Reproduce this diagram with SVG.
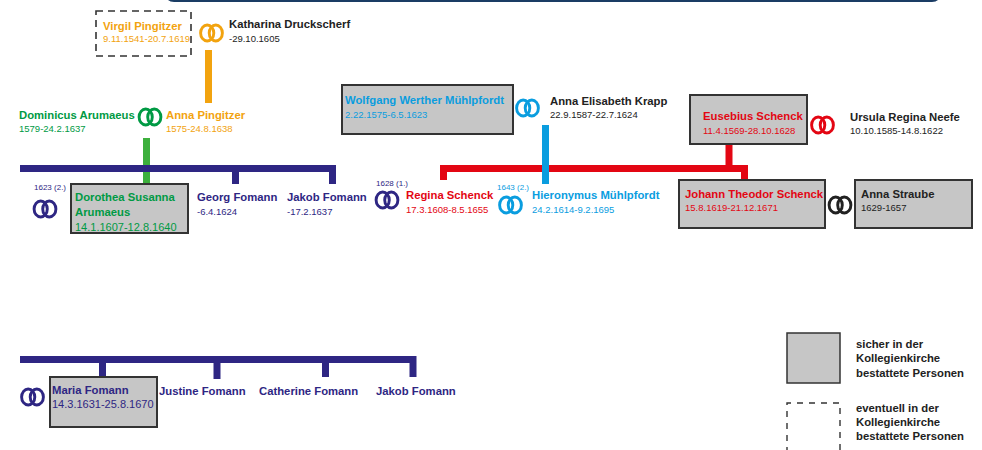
<svg xmlns="http://www.w3.org/2000/svg" xmlns:xlink="http://www.w3.org/1999/xlink" width="982" height="450" viewBox="0 0 982 450">
<style>
text{font-family:"Liberation Sans",Arial,sans-serif}
.n{font-weight:bold;font-size:11.3px}
.d{font-size:9.5px}
.d2{font-size:11px}
.s{font-size:8px}
.box{fill:#c6c6c6;stroke:#333;stroke-width:2}
.dash{fill:none;stroke:#333;stroke-width:1.6;stroke-dasharray:7 5}
.or{fill:#f2a30f}.gr{fill:#009a44}.nv{fill:#2e2683}.bl{fill:#0a9ddf}.rd{fill:#e30613}.bk{fill:#222}
.ring{fill:none;stroke-width:2.9}
.leg{font-weight:bold;font-size:11.3px;fill:#222}
</style>
<defs>
<g id="rings"><ellipse cx="-4.3" cy="0" rx="6.6" ry="8"/><ellipse cx="4.3" cy="0" rx="6.6" ry="8"/></g>
</defs>
<path d="M168 0 H938 Q936 2 932 2 H174 Q170 2 168 0 Z" fill="#1a3c64"/>
<g id="connectors">
<rect x="205" y="50" width="7" height="53" fill="#f2a30f"/>
<rect x="143" y="138" width="7" height="47" fill="#3db03d"/>
<path d="M20 168.5 H332.5 V184 M235.5 168.5 V184" fill="none" stroke="#2e2683" stroke-width="7"/>
<path d="M443.5 180 V168.5 H744.5 V180 M729 143 V168.5" fill="none" stroke="#e30613" stroke-width="7"/>
<rect x="542" y="125" width="7" height="59" fill="#0a9ddf"/>
<path d="M20 359.5 H413 V377 M102.5 359.5 V377 M217 359.5 V379 M325.5 359.5 V377" fill="none" stroke="#2e2683" stroke-width="7"/>
</g>
<g id="virgil">
<rect class="dash" x="96" y="11" width="95" height="45"/>
<text class="n or" x="103" y="30">Virgil Pingitzer</text>
<text class="d or" x="103" y="42">9.11.1541-20.7.1619</text>
</g>
<g id="rings-virgil"><use xlink:href="#rings" href="#rings" x="211.5" y="33" class="ring" stroke="#f2a30f"/></g>
<g id="katharina">
<text class="n bk" x="229" y="28">Katharina Druckscherf</text>
<text class="d bk" x="229" y="42">-29.10.1605</text>
</g>
<g id="dominicus">
<text class="n gr" x="19" y="119">Dominicus Arumaeus</text>
<text class="d gr" x="19" y="132">1579-24.2.1637</text>
</g>
<g id="rings-arumaeus"><use xlink:href="#rings" href="#rings" x="150" y="117" class="ring" stroke="#009a44"/></g>
<g id="anna-pingitzer">
<text class="n or" x="166" y="119">Anna Pingitzer</text>
<text class="d or" x="166" y="132">1575-24.8.1638</text>
</g>
<g id="rings-dorothea">
<text class="s nv" x="34" y="190">1623 (2.)</text>
<use xlink:href="#rings" href="#rings" x="45" y="209" class="ring" stroke="#2e2683"/>
</g>
<g id="dorothea">
<rect class="box" x="71" y="184" width="117" height="49"/>
<text class="n gr" x="75" y="201">Dorothea Susanna</text>
<text class="n gr" x="75" y="216">Arumaeus</text>
<text class="d2 gr" x="75" y="231">14.1.1607-12.8.1640</text>
</g>
<g id="georg">
<text class="n nv" x="197" y="201">Georg Fomann</text>
<text class="d nv" x="197" y="215">-6.4.1624</text>
</g>
<g id="jakob1">
<text class="n nv" x="287" y="201">Jakob Fomann</text>
<text class="d nv" x="287" y="215">-17.2.1637</text>
</g>
<g id="rings-regina">
<text class="s nv" x="376" y="186">1628 (1.)</text>
<use xlink:href="#rings" href="#rings" x="387" y="200" class="ring" stroke="#2e2683"/>
</g>
<g id="regina">
<text class="n rd" x="406" y="199">Regina Schenck</text>
<text class="d rd" x="406" y="213">17.3.1608-8.5.1655</text>
</g>
<g id="wolfgang">
<rect class="box" x="342" y="85" width="171" height="49"/>
<text class="n bl" x="345" y="104">Wolfgang Werther Mühlpfordt</text>
<text class="d bl" x="345" y="118">2.22.1575-6.5.1623</text>
</g>
<g id="rings-wolfgang"><use xlink:href="#rings" href="#rings" x="527.5" y="108" class="ring" stroke="#0a9ddf"/></g>
<g id="anna-krapp">
<text class="n bk" x="550" y="105">Anna Elisabeth Krapp</text>
<text class="d bk" x="550" y="118">22.9.1587-22.7.1624</text>
</g>
<g id="rings-hieronymus">
<text class="s bl" x="497" y="190">1643 (2.)</text>
<use xlink:href="#rings" href="#rings" x="510.5" y="205" class="ring" stroke="#0a9ddf"/>
</g>
<g id="hieronymus">
<text class="n bl" x="532" y="199">Hieronymus Mühlpfordt</text>
<text class="d bl" x="532" y="213">24.2.1614-9.2.1695</text>
</g>
<g id="eusebius">
<rect class="box" x="690" y="95" width="117" height="49"/>
<text class="n rd" x="703" y="120">Eusebius Schenck</text>
<text class="d rd" x="703" y="134">11.4.1569-28.10.1628</text>
</g>
<g id="rings-eusebius"><use xlink:href="#rings" href="#rings" x="822.5" y="125" class="ring" stroke="#e30613"/></g>
<g id="ursula">
<text class="n bk" x="850" y="121">Ursula Regina Neefe</text>
<text class="d bk" x="850" y="134">10.10.1585-14.8.1622</text>
</g>
<g id="johann">
<rect class="box" x="679" y="180" width="146" height="48"/>
<text class="n rd" x="685" y="198">Johann Theodor Schenck</text>
<text class="d rd" x="685" y="211">15.8.1619-21.12.1671</text>
</g>
<g id="rings-johann"><use xlink:href="#rings" href="#rings" x="840" y="205" class="ring" stroke="#222"/></g>
<g id="anna-straube">
<rect class="box" x="855" y="180" width="117" height="48"/>
<text class="n bk" x="861" y="198">Anna Straube</text>
<text class="d bk" x="861" y="211">1629-1657</text>
</g>
<g id="rings-maria"><use xlink:href="#rings" href="#rings" x="32.5" y="397" class="ring" stroke="#2e2683"/></g>
<g id="maria">
<rect class="box" x="50" y="377" width="107" height="50"/>
<text class="n nv" x="52" y="394">Maria Fomann</text>
<text class="d2 nv" x="52" y="408">14.3.1631-25.8.1670</text>
</g>
<g id="justine"><text class="n nv" x="159" y="395">Justine Fomann</text></g>
<g id="catherine"><text class="n nv" x="259" y="395">Catherine Fomann</text></g>
<g id="jakob2"><text class="n nv" x="376" y="395">Jakob Fomann</text></g>
<g id="legend">
<rect class="box" x="787" y="333" width="53" height="50" style="stroke-width:1.5"/>
<text class="leg" x="856" y="348">sicher in der</text>
<text class="leg" x="856" y="362">Kollegienkirche</text>
<text class="leg" x="856" y="377">bestattete Personen</text>
<path class="dash" d="M787 453 V403 H840 V453" style="stroke-width:1.4;stroke-dasharray:6 6"/>
<text class="leg" x="856" y="412">eventuell in der</text>
<text class="leg" x="856" y="426">Kollegienkirche</text>
<text class="leg" x="856" y="440">bestattete Personen</text>
</g>
</svg>
